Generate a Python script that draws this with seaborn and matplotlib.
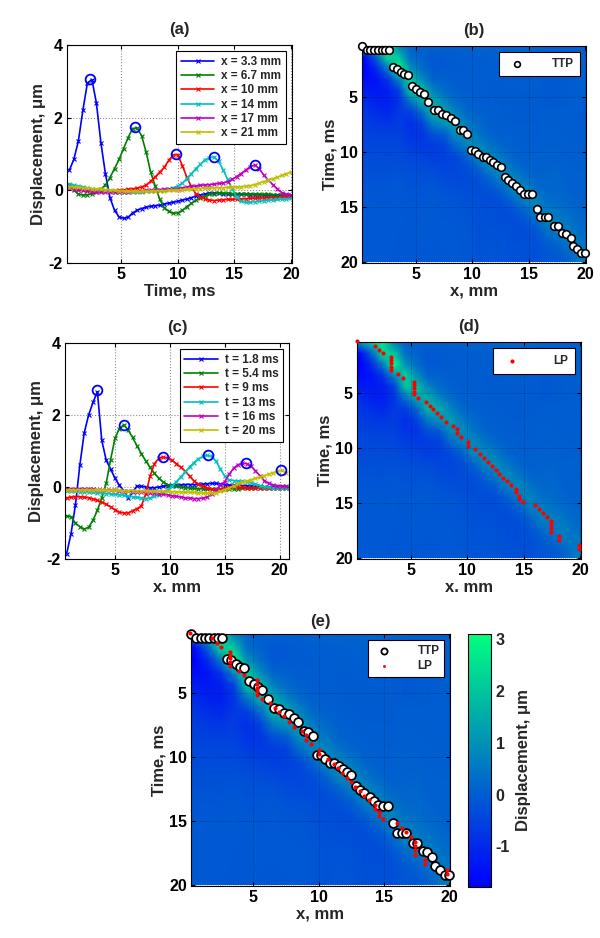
import numpy as np
import seaborn as sns
import matplotlib
matplotlib.use("Agg")
import matplotlib.pyplot as plt

# ---------------- data ----------------
# (a) displacement vs time at fixed lateral positions
t_a = np.round(np.arange(0.4, 20.01, 0.4), 1)
labels_a = ["x = 3.3 mm", "x = 6.7 mm", "x = 10 mm", "x = 14 mm", "x = 17 mm", "x = 21 mm"]
disp_x33 = [0.55, 0.85, 1.35, 2.2, 2.95, 3.05, 2.4, 1.3, 0.45, -0.2,
            -0.55, -0.73, -0.77, -0.74, -0.62, -0.55, -0.5, -0.46, -0.44, -0.42,
            -0.41, -0.38, -0.35, -0.33, -0.3, -0.27, -0.24, -0.2, -0.16, -0.13,
            -0.1, -0.08, -0.08, -0.08, -0.09, -0.1, -0.1, -0.1, -0.11, -0.11,
            -0.12, -0.12, -0.12, -0.13, -0.13, -0.13, -0.14, -0.14, -0.14, -0.15]
disp_x67 = [0.12, 0.0, -0.1, -0.13, -0.12, -0.1, -0.05, 0.03, 0.15, 0.35,
            0.6, 0.85, 1.15, 1.45, 1.7, 1.72, 1.5, 1.05, 0.5, 0.12,
            -0.25, -0.48, -0.58, -0.63, -0.62, -0.55, -0.45, -0.36, -0.27, -0.2,
            -0.15, -0.11, -0.09, -0.08, -0.08, -0.08, -0.09, -0.09, -0.1, -0.1,
            -0.1, -0.1, -0.11, -0.11, -0.11, -0.12, -0.12, -0.12, -0.12, -0.12]
disp_x10 = [0.15, 0.08, 0.03, 0.0, 0.0, -0.02, -0.03, -0.03, -0.03, -0.02,
            -0.01, 0.0, 0.01, 0.03, 0.04, 0.06, 0.09, 0.15, 0.25, 0.37,
            0.5, 0.63, 0.83, 0.97, 0.98, 0.68, 0.36, 0.1, -0.1, -0.18,
            -0.24, -0.27, -0.28, -0.27, -0.26, -0.25, -0.25, -0.24, -0.24, -0.23,
            -0.22, -0.22, -0.21, -0.21, -0.2, -0.2, -0.2, -0.19, -0.19, -0.19]
disp_x14 = [0.18, 0.14, 0.12, 0.1, 0.07, 0.04, 0.02, 0.0, -0.02, -0.03,
            -0.04, -0.04, -0.05, -0.05, -0.05, -0.04, -0.04, -0.03, -0.02, -0.01,
            0.0, 0.02, 0.04, 0.07, 0.12, 0.2, 0.32, 0.46, 0.6, 0.72,
            0.84, 0.9, 0.92, 0.8, 0.57, 0.3, 0.05, -0.18, -0.3, -0.33,
            -0.33, -0.31, -0.3, -0.29, -0.27, -0.26, -0.25, -0.24, -0.23, -0.22]
disp_x17 = [0.07, 0.04, 0.02, 0.0, -0.02, -0.03, -0.04, -0.05, -0.05, -0.05,
            -0.05, -0.05, -0.05, -0.04, -0.03, -0.02, -0.01, 0.0, 0.0, 0.01,
            0.02, 0.03, 0.03, 0.04, 0.05, 0.07, 0.09, 0.11, 0.12, 0.14,
            0.15, 0.16, 0.17, 0.19, 0.2, 0.24, 0.3, 0.38, 0.46, 0.56,
            0.65, 0.7, 0.6, 0.42, 0.28, 0.16, 0.04, -0.06, -0.11, -0.12]
disp_x21 = [0.1, 0.09, 0.08, 0.07, 0.06, 0.05, 0.04, 0.03, 0.02, 0.01,
            0.0, -0.01, -0.02, -0.03, -0.03, -0.03, -0.03, -0.03, -0.02, -0.02,
            -0.01, -0.01, 0.0, 0.0, 0.01, 0.02, 0.03, 0.04, 0.05, 0.05,
            0.06, 0.06, 0.07, 0.07, 0.07, 0.08, 0.08, 0.09, 0.1, 0.11,
            0.13, 0.16, 0.2, 0.24, 0.28, 0.32, 0.36, 0.41, 0.46, 0.5]
peak_t_a = [2.2, 6.2, 9.8, 13.2, 16.8]
peak_v_a = [3.07, 1.73, 1.0, 0.92, 0.71]

# (c) displacement vs lateral position at fixed times
x_c = np.round(np.arange(0.6, 20.61, 0.4), 1)
labels_c = ["t = 1.8 ms", "t = 5.4 ms", "t = 9 ms", "t = 13 ms", "t = 16 ms", "t = 20 ms"]
disp_t18 = [-1.85, -1.3, -0.5, 0.6, 1.5, 2.0, 2.35, 2.65, 1.3, 0.75,
            0.5, 0.25, 0.05, -0.1, -0.3, -0.15, 0.03, 0.02, 0.0, -0.02,
            -0.02, 0.0, 0.02, 0.04, 0.05, 0.06, 0.06, 0.07, 0.07, 0.07,
            0.08, 0.08, 0.09, 0.1, 0.1, 0.08, 0.06, 0.05, 0.05, 0.05,
            0.04, 0.04, 0.03, 0.02, 0.02, 0.01, 0.0, 0.0, 0.0, 0.0, 0.0]
disp_t54 = [-0.8, -0.82, -1.0, -1.1, -1.17, -1.12, -0.92, -0.65, -0.3, 0.1,
            0.75, 1.35, 1.62, 1.73, 1.58, 1.38, 1.15, 0.93, 0.73, 0.55,
            0.38, 0.24, 0.14, 0.07, 0.04, 0.02, 0.0, -0.02, -0.03, -0.04,
            -0.05, -0.05, -0.06, -0.06, -0.06, -0.06, -0.06, -0.05, -0.05, -0.05,
            -0.04, -0.04, -0.03, -0.03, -0.02, -0.02, -0.02, -0.02, -0.02, -0.02, -0.02]
disp_t9 = [-0.3, -0.28, -0.27, -0.27, -0.28, -0.3, -0.33, -0.37, -0.42, -0.48,
           -0.55, -0.63, -0.7, -0.72, -0.72, -0.66, -0.6, -0.53, -0.2, 0.3,
           0.65, 0.8, 0.83, 0.8, 0.74, 0.65, 0.55, 0.44, 0.3, 0.17,
           0.08, 0.02, -0.03, -0.06, -0.07, -0.07, -0.04, 0.0, 0.02, 0.0,
           -0.01, -0.02, -0.02, -0.02, -0.02, -0.03, -0.03, -0.03, -0.03, -0.03, -0.03]
disp_t13 = [-0.12, -0.12, -0.12, -0.13, -0.14, -0.15, -0.15, -0.16, -0.17, -0.18,
            -0.19, -0.2, -0.21, -0.23, -0.25, -0.27, -0.29, -0.3, -0.32, -0.3,
            -0.26, -0.21, -0.15, -0.08, 0.02, 0.15, 0.28, 0.42, 0.56, 0.68,
            0.78, 0.85, 0.88, 0.85, 0.72, 0.5, 0.3, 0.2, 0.18, 0.17,
            0.16, 0.15, 0.12, 0.08, 0.04, 0.01, -0.01, -0.02, -0.02, -0.02, -0.02]
disp_t16 = [-0.05, -0.05, -0.05, -0.05, -0.06, -0.06, -0.06, -0.07, -0.07, -0.08,
            -0.08, -0.09, -0.1, -0.1, -0.11, -0.12, -0.13, -0.14, -0.15, -0.16,
            -0.17, -0.19, -0.2, -0.22, -0.24, -0.26, -0.28, -0.3, -0.31, -0.32,
            -0.32, -0.31, -0.28, -0.2, -0.08, 0.05, 0.15, 0.35, 0.52, 0.62,
            0.66, 0.65, 0.58, 0.45, 0.32, 0.18, 0.1, 0.06, 0.04, 0.03, 0.03]
disp_t20 = [-0.08, -0.08, -0.08, -0.08, -0.08, -0.08, -0.08, -0.08, -0.08, -0.09,
            -0.09, -0.09, -0.09, -0.1, -0.1, -0.1, -0.1, -0.1, -0.1, -0.11,
            -0.11, -0.11, -0.12, -0.12, -0.13, -0.13, -0.14, -0.14, -0.15, -0.15,
            -0.16, -0.17, -0.17, -0.17, -0.16, -0.12, -0.07, -0.02, 0.03, 0.08,
            0.13, 0.17, 0.2, 0.24, 0.28, 0.32, 0.36, 0.4, 0.44, 0.46, 0.4]
peak_x_c = [3.35, 5.8, 9.4, 13.5, 16.9, 20.1]
peak_v_c = [2.7, 1.73, 0.83, 0.89, 0.66, 0.46]

# displacement map, one list per x column (x = 0.5 ... 19.5 mm), values at t = 0.5 ... 19.5 ms
map_cols = [
    [1.0, -1.6, -1.75, -1.55, -1.25, -0.95, -0.75, -0.6, -0.5, -0.42, -0.34, -0.27, -0.2, -0.15, -0.11, -0.08, -0.07, -0.07, -0.07, -0.08],
    [2.0, 0.0, -1.0, -1.4, -1.3, -1.15, -0.9, -0.68, -0.52, -0.42, -0.34, -0.27, -0.2, -0.15, -0.11, -0.09, -0.08, -0.07, -0.07, -0.08],
    [2.6, 2.3, 0.5, -0.8, -1.2, -1.2, -1.0, -0.75, -0.55, -0.43, -0.35, -0.28, -0.21, -0.16, -0.12, -0.1, -0.09, -0.08, -0.08, -0.09],
    [0.7, 2.0, 3.0, 0.7, -0.6, -0.8, -0.7, -0.6, -0.52, -0.43, -0.34, -0.25, -0.16, -0.11, -0.1, -0.1, -0.1, -0.11, -0.12, -0.14],
    [0.12, 0.3, 1.0, 2.2, 1.9, 0.35, -0.6, -0.88, -0.8, -0.6, -0.42, -0.3, -0.23, -0.18, -0.14, -0.12, -0.11, -0.11, -0.12, -0.12],
    [0.04, 0.1, 0.3, 0.92, 1.9, 1.44, 0.2, -0.55, -0.75, -0.66, -0.48, -0.32, -0.23, -0.17, -0.13, -0.11, -0.1, -0.1, -0.1, -0.11],
    [0.1, -0.12, -0.1, 0.12, 0.72, 1.5, 1.68, 0.6, -0.3, -0.62, -0.58, -0.38, -0.22, -0.14, -0.1, -0.09, -0.1, -0.1, -0.11, -0.12],
    [0.05, -0.05, -0.05, 0.09, 0.25, 0.75, 1.48, 1.0, -0.05, -0.55, -0.55, -0.46, -0.32, -0.21, -0.15, -0.12, -0.1, -0.1, -0.1, -0.11],
    [0.05, -0.03, -0.04, -0.02, 0.07, 0.25, 0.75, 1.23, 0.9, 0.2, -0.4, -0.45, -0.37, -0.25, -0.17, -0.13, -0.11, -0.1, -0.1, -0.1],
    [0.08, 0.0, -0.03, -0.03, 0.0, 0.06, 0.2, 0.55, 0.95, 0.7, 0.05, -0.3, -0.35, -0.3, -0.23, -0.18, -0.15, -0.13, -0.12, -0.12],
    [0.15, 0.0, -0.02, -0.03, -0.01, 0.03, 0.07, 0.22, 0.45, 0.85, 0.8, 0.1, -0.25, -0.3, -0.27, -0.25, -0.23, -0.21, -0.2, -0.19],
    [0.12, 0.03, -0.01, -0.03, -0.03, -0.02, 0.02, 0.05, 0.13, 0.42, 0.9, 0.75, 0.12, -0.22, -0.32, -0.3, -0.25, -0.21, -0.18, -0.17],
    [0.13, 0.05, 0.0, -0.03, -0.04, -0.04, -0.03, 0.0, 0.05, 0.16, 0.5, 0.93, 0.62, 0.03, -0.27, -0.33, -0.28, -0.23, -0.2, -0.18],
    [0.16, 0.1, 0.04, -0.01, -0.04, -0.05, -0.04, -0.03, 0.0, 0.05, 0.14, 0.42, 0.88, 0.65, 0.05, -0.25, -0.32, -0.3, -0.27, -0.24],
    [0.17, 0.1, 0.04, 0.0, -0.03, -0.04, -0.04, -0.03, -0.01, 0.02, 0.05, 0.15, 0.45, 0.86, 0.58, 0.03, -0.26, -0.31, -0.28, -0.24],
    [0.15, 0.09, 0.04, 0.0, -0.03, -0.04, -0.04, -0.03, -0.01, 0.01, 0.03, 0.06, 0.14, 0.37, 0.76, 0.55, 0.06, -0.2, -0.27, -0.26],
    [0.1, 0.03, -0.02, -0.05, -0.05, -0.05, -0.02, 0.0, 0.02, 0.04, 0.07, 0.1, 0.13, 0.17, 0.33, 0.65, 0.62, 0.18, -0.08, -0.15],
    [0.08, 0.0, -0.03, -0.05, -0.05, -0.05, -0.02, 0.0, 0.02, 0.04, 0.07, 0.12, 0.15, 0.18, 0.25, 0.43, 0.68, 0.48, 0.1, -0.1],
    [0.08, 0.03, 0.0, -0.02, -0.03, -0.03, -0.03, -0.02, -0.01, 0.01, 0.03, 0.05, 0.07, 0.1, 0.14, 0.25, 0.45, 0.65, 0.45, 0.1],
    [0.1, 0.07, 0.04, 0.02, 0.0, -0.02, -0.03, -0.03, -0.02, 0.0, 0.02, 0.04, 0.06, 0.07, 0.09, 0.12, 0.2, 0.32, 0.5, 0.56],
]

# time-to-peak (TTP) and lateral-peak (LP) points
ttp_x = [0.24, 0.65, 0.98, 1.3, 1.65, 2.0, 2.3, 2.65, 3.0, 3.3, 3.65, 4.0, 4.3, 4.7, 5.05,
         5.4, 5.7, 6.1, 6.6, 7.0, 7.35, 7.7, 8.1, 8.45, 8.9, 9.2, 9.55, 9.85, 10.2, 10.5,
         10.9, 11.2, 11.55, 11.85, 12.2, 12.5, 12.85, 13.15, 13.5, 13.9, 14.25, 14.55, 14.9,
         15.3, 15.7, 16.0, 16.4, 16.7, 17.2, 17.55, 17.95, 18.3, 18.7, 18.9, 19.3, 19.65, 20.0]
ttp_t = [0.36, 0.7, 0.7, 0.7, 0.7, 0.7, 0.7, 0.7, 2.3, 2.4, 2.7, 2.9, 3.0, 4.0, 4.3,
         4.5, 4.7, 5.45, 6.15, 6.2, 6.5, 6.6, 6.9, 7.2, 7.95, 8.0, 8.3, 9.8, 9.85, 10.15,
         10.4, 10.45, 10.7, 10.9, 11.15, 11.35, 12.25, 12.55, 12.8, 13.1, 13.4, 13.75, 13.8,
         13.8, 15.15, 15.9, 15.9, 15.9, 16.7, 16.7, 17.3, 17.4, 17.8, 18.5, 18.8, 19.15, 19.15]
lp_x = [0.2, 1.85, 2.2, 2.55, 3.25, 3.25, 3.25, 3.25, 3.25, 3.9, 4.3, 5.3, 5.3, 5.3, 5.3,
        5.3, 5.65, 6.3, 6.7, 7.0, 7.35, 7.7, 8.1, 8.75, 9.05, 9.05, 9.4, 10.05, 10.05, 10.7,
        11.15, 11.5, 11.8, 12.15, 12.5, 12.8, 13.15, 13.5, 13.85, 14.3, 14.3, 14.6, 14.6,
        14.9, 16.0, 16.35, 16.7, 17.05, 17.4, 17.4, 17.4, 17.4, 18.1, 18.1, 19.85, 19.85]
lp_t = [0.3, 0.67, 1.06, 1.36, 1.73, 1.97, 2.27, 2.58, 2.88, 3.24, 3.58, 3.94, 4.24, 4.55, 4.85,
        5.1, 5.4, 5.76, 6.15, 6.45, 6.8, 7.2, 7.6, 7.97, 8.27, 8.64, 8.94, 9.4, 9.76, 10.1,
        10.5, 10.85, 11.2, 11.6, 11.95, 12.3, 12.65, 13.0, 13.3, 13.7, 14.0, 14.3, 14.6,
        14.85, 15.15, 15.5, 15.85, 16.2, 16.6, 16.9, 17.25, 17.6, 18.0, 18.35, 18.8, 19.1]

line_colors = ["#0000ff", "#008000", "#ff0000", "#00bfbf", "#bf00bf", "#bfbf00"]
disp_min, disp_max = -1.78, 3.09

# ---------------- style ----------------
sns.set_style("white")
plt.rcParams["font.family"] = ["Liberation Sans", "DejaVu Sans"]
plt.rcParams["font.weight"] = "bold"
plt.rcParams["axes.labelweight"] = "bold"
plt.rcParams["axes.titleweight"] = "bold"
plt.rcParams["axes.unicode_minus"] = False
plt.rcParams["xtick.direction"] = "in"
plt.rcParams["ytick.direction"] = "in"
plt.rcParams["xtick.major.size"] = 3
plt.rcParams["ytick.major.size"] = 3
plt.rcParams["xtick.bottom"] = True
plt.rcParams["ytick.left"] = True
plt.rcParams["axes.edgecolor"] = "black"
plt.rcParams["axes.linewidth"] = 0.8

fig = plt.figure(figsize=(6, 9.38), dpi=100)


def style_axes(ax, title, xlabel, ylabel, pad=8):
    ax.set_title(title, fontsize=12, pad=pad)
    ax.set_xlabel(xlabel, fontsize=12, labelpad=1)
    ax.set_ylabel(ylabel, fontsize=12, labelpad=2)
    ax.tick_params(labelsize=11.5, pad=3, colors="black", top=True, right=True)
    ax.set_xticks([5, 10, 15, 20])


def legend_box(ax, **kw):
    leg = ax.legend(loc="upper right", fontsize=8.5, frameon=True, fancybox=False,
                    edgecolor="black", framealpha=1, borderaxespad=0.5, **kw)
    leg.get_frame().set_linewidth(0.8)
    return leg


# ---------------- (a) ----------------
ax_a = fig.add_axes([0.1117, 0.7196, 0.375, 0.2324])
for vals, lab, col in zip([disp_x33, disp_x67, disp_x10, disp_x14, disp_x17, disp_x21],
                          labels_a, line_colors):
    sns.lineplot(x=t_a, y=vals, ax=ax_a, color=col, marker="x", markersize=3.0,
                 markeredgecolor=col, markeredgewidth=0.8, linewidth=1.2, label=lab)
ax_a.plot(peak_t_a, peak_v_a, "o", mfc="none", mec="#0000ff", ms=7, mew=1.3, zorder=5)
ax_a.set_xlim(0.2, 20.1)
ax_a.set_ylim(-2, 4)
ax_a.set_yticks([-2, 0, 2, 4])
ax_a.grid(True, linestyle=":", color="0.55", linewidth=0.8)
style_axes(ax_a, "(a)", "Time, ms", "Displacement, μm")
legend_box(ax_a, handlelength=2.8, labelspacing=0.2, handletextpad=0.6)

# ---------------- (c) ----------------
ax_c = fig.add_axes([0.1083, 0.404, 0.3733, 0.2303])
for vals, lab, col in zip([disp_t18, disp_t54, disp_t9, disp_t13, disp_t16, disp_t20],
                          labels_c, line_colors):
    sns.lineplot(x=x_c, y=vals, ax=ax_c, color=col, marker="x", markersize=3.0,
                 markeredgecolor=col, markeredgewidth=0.8, linewidth=1.2, label=lab)
ax_c.plot(peak_x_c, peak_v_c, "o", mfc="none", mec="#0000ff", ms=7, mew=1.3, zorder=5)
ax_c.set_xlim(0.45, 20.85)
ax_c.set_ylim(-2, 4)
ax_c.set_yticks([-2, 0, 2, 4])
ax_c.grid(True, linestyle=":", color="0.55", linewidth=0.8)
style_axes(ax_c, "(c)", "x. mm", "Displacement, μm")
legend_box(ax_c, handlelength=2.8, labelspacing=0.2, handletextpad=0.6)

# ---------------- maps (b), (d), (e) ----------------
field = np.array(map_cols).T


def draw_map(ax):
    im = ax.imshow(field, extent=[0, 20, 20, 0], cmap="winter", vmin=disp_min,
                   vmax=disp_max, interpolation="bilinear", aspect="auto", zorder=0)
    ax.set_xlim(0.24, 20.05)
    ax.set_ylim(20.05, 0.36)
    ax.set_yticks([5, 10, 15, 20])
    ax.set_axisbelow(False)
    ax.grid(True, linestyle=":", color="black", linewidth=0.6, alpha=0.35)
    return im


ax_b = fig.add_axes([0.6033, 0.7196, 0.3733, 0.2313])
draw_map(ax_b)
sns.scatterplot(x=ttp_x, y=ttp_t, ax=ax_b, marker="o", s=30, color="white",
                edgecolor="black", linewidth=1.2, label="TTP", zorder=4, clip_on=False)
style_axes(ax_b, "(b)", "x, mm", "Time, ms")
legend_box(ax_b, handletextpad=2.0, borderpad=0.5, markerscale=0.75)

ax_d = fig.add_axes([0.595, 0.404, 0.3733, 0.2313])
draw_map(ax_d)
sns.scatterplot(x=lp_x, y=lp_t, ax=ax_d, marker="o", s=9, color="red",
                linewidth=0, label="LP", zorder=4, clip_on=False)
style_axes(ax_d, "(d)", "x. mm", "Time, ms")
legend_box(ax_d, handletextpad=2.5, borderpad=0.6)

ax_e = fig.add_axes([0.3183, 0.0554, 0.4317, 0.2687])
im_e = draw_map(ax_e)
sns.scatterplot(x=ttp_x, y=ttp_t, ax=ax_e, marker="o", s=40, color="white",
                edgecolor="black", linewidth=1.3, label="TTP", zorder=4, clip_on=False)
sns.scatterplot(x=lp_x, y=lp_t, ax=ax_e, marker="o", s=9, color="red",
                linewidth=0, label="LP", zorder=5, clip_on=False)
style_axes(ax_e, "(e)", "x, mm", "Time, ms", pad=6)
legend_box(ax_e, handletextpad=1.8, borderpad=0.4, labelspacing=0.3, markerscale=0.7)

cax = fig.add_axes([0.78, 0.0544, 0.0383, 0.2697])
cb = fig.colorbar(im_e, cax=cax, ticks=[-1, 0, 1, 2, 3])
cb.set_label("Displacement, μm", fontsize=12, fontweight="bold")
cb.ax.tick_params(labelsize=11.5, direction="in", length=3)
cb.outline.set_linewidth(0.8)

fig.savefig("out.png", dpi=100)
